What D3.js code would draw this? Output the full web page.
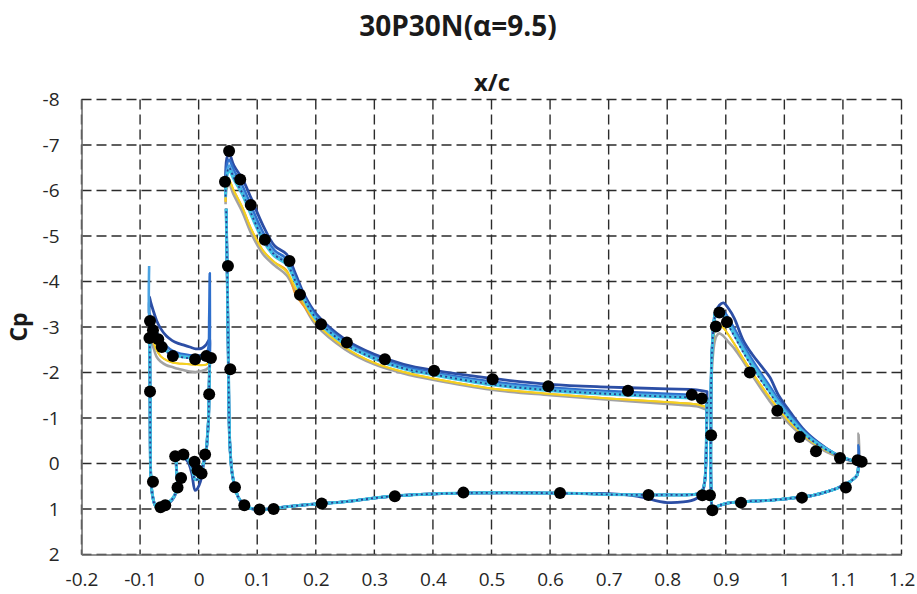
<html>
<script src='https://d3js.org/d3.v7.min.js'></script>
<style>
    body { margin: 0; background: #fff; }
    text { font-family: "Open Sans", Lato, sans-serif; }
</style>

<body>
    <div id="graph-container"></div>
    <script>
        // tick labels
        const xTicks = [-0.2, -0.1, 0, 0.1, 0.2, 0.3, 0.4, 0.5, 0.6, 0.7, 0.8, 0.9, 1, 1.1, 1.2];
        const yTicks = [-8, -7, -6, -5, -4, -3, -2, -1, 0, 1, 2];

        // slat upper surface (LE -> TE)
        const slatUpX = [-0.0845, -0.084, -0.082, -0.078, -0.072, -0.065, -0.055, -0.045, -0.035, -0.025, -0.015, -0.005, 0.005, 0.012, 0.016, 0.018, 0.019];
        const darkSlat   = [-3.3, -3.66, -3.55, -3.38, -3.15, -2.97, -2.8, -2.7, -2.64, -2.6, -2.56, -2.52, -2.53, -2.6, -2.68, -2.72, -2.75];
        const medSlat    = [-3.1, -3.3, -3.22, -3.08, -2.9, -2.74, -2.58, -2.48, -2.43, -2.4, -2.38, -2.37, -2.38, -2.42, -2.5, -3.2, -4.18];
        const lightSlat  = [-4.34, -3.2, -3.12, -2.98, -2.8, -2.64, -2.5, -2.42, -2.38, -2.36, -2.34, -2.33, -2.33, -2.36, -2.4, -2.42, -2.44];
        const cyanSlat   = [-3.05, -3.15, -3.05, -2.9, -2.75, -2.6, -2.47, -2.4, -2.36, -2.34, -2.32, -2.31, -2.31, -2.33, -2.36, -2.38, -2.4];
        const navySlat   = [-3.0, -3.1, -3.0, -2.86, -2.72, -2.57, -2.45, -2.38, -2.35, -2.33, -2.31, -2.3, -2.3, -2.32, -2.35, -2.37, -2.38];
        const yellowSlat = [-2.9, -2.95, -2.85, -2.7, -2.5, -2.36, -2.27, -2.22, -2.2, -2.19, -2.18, -2.17, -2.16, -2.17, -2.2, -2.22, -2.24];
        const orangeSlat = [-2.9, -2.95, -2.85, -2.7, -2.5, -2.36, -2.27, -2.22, -2.2, -2.19, -2.18, -2.17, -2.16, -2.17, -2.2, -2.22, -2.24];
        const graySlat   = [-2.75, -2.8, -2.72, -2.58, -2.35, -2.24, -2.16, -2.12, -2.08, -2.05, -2.02, -2.01, -2.03, -2.06, -2.1, -2.12, -2.15];

        // slat lower surface / cove (TE -> LE)
        const slatLowX = [0.019, 0.018, 0.017, 0.015, 0.013, 0.008, 0.003, -0.002, -0.006, -0.012, -0.019, -0.029, -0.037, -0.038, -0.036, -0.038, -0.045, -0.054, -0.062, -0.069, -0.075, -0.08, -0.082, -0.083, -0.0835];
        const slatLowCp = [-2.3, -1.76, -1.02, -0.6, -0.29, 0.0, 0.25, 0.35, 0.35, 0.07, -0.11, -0.18, -0.15, 0.07, 0.44, 0.6, 0.78, 0.88, 0.95, 0.99, 0.9, 0.59, 0.15, -1.59, -2.7];
        const darkSlatLowCp = [-2.5, -1.76, -1.02, -0.6, -0.29, 0.05, 0.4, 0.55, 0.59, 0.2, -0.05, -0.15, -0.12, 0.1, 0.46, 0.62, 0.8, 0.9, 0.96, 1.0, 0.9, 0.59, 0.15, -1.59, -2.9];

        // main element upper surface (LE -> TE)
        const mainUpX = [0.046, 0.048, 0.052, 0.06, 0.075, 0.09, 0.11, 0.13, 0.15, 0.165, 0.18, 0.2, 0.25, 0.3, 0.35, 0.4, 0.5, 0.6, 0.7, 0.8, 0.85, 0.868];
        const darkMain   = [-6.0, -6.7, -6.82, -6.55, -6.25, -5.82, -5.23, -4.78, -4.6, -4.18, -3.72, -3.3, -2.73, -2.4, -2.18, -2.05, -1.87, -1.74, -1.68, -1.64, -1.62, -1.58];
        const medMain    = [-5.95, -6.55, -6.68, -6.45, -6.1, -5.65, -5.08, -4.68, -4.5, -4.1, -3.67, -3.25, -2.68, -2.35, -2.13, -2.0, -1.8, -1.67, -1.59, -1.53, -1.5, -1.45];
        const lightMain  = [-5.9, -6.4, -6.55, -6.33, -5.98, -5.52, -4.96, -4.6, -4.43, -4.04, -3.63, -3.21, -2.65, -2.33, -2.1, -1.97, -1.76, -1.63, -1.55, -1.49, -1.46, -1.41];
        const cyanMain   = [-5.85, -6.3, -6.45, -6.25, -5.9, -5.45, -4.9, -4.55, -4.38, -4.0, -3.6, -3.18, -2.62, -2.3, -2.08, -1.95, -1.73, -1.6, -1.52, -1.46, -1.43, -1.38];
        const navyMain   = [-5.87, -6.35, -6.5, -6.28, -5.93, -5.48, -4.93, -4.58, -4.4, -4.02, -3.62, -3.2, -2.63, -2.31, -2.09, -1.96, -1.74, -1.61, -1.53, -1.47, -1.44, -1.39];
        const yellowMain = [-5.75, -6.12, -6.22, -6.0, -5.62, -5.15, -4.68, -4.42, -4.22, -3.87, -3.52, -3.1, -2.55, -2.21, -2.01, -1.87, -1.65, -1.53, -1.43, -1.35, -1.3, -1.25];
        const orangeMain = [-5.75, -6.12, -6.22, -6.0, -5.62, -5.15, -4.68, -4.42, -4.25, -3.72, -3.45, -3.1, -2.55, -2.21, -2.01, -1.87, -1.65, -1.53, -1.43, -1.35, -1.3, -1.25];
        const grayMain   = [-5.7, -6.05, -6.12, -5.9, -5.52, -5.05, -4.6, -4.35, -4.14, -3.8, -3.47, -3.05, -2.51, -2.18, -1.98, -1.84, -1.62, -1.5, -1.4, -1.31, -1.26, -1.2];

        // main element lower surface (TE -> LE)
        const mainLowX = [0.868, 0.867, 0.866, 0.864, 0.86, 0.85, 0.8, 0.75, 0.7, 0.65, 0.6, 0.55, 0.5, 0.45, 0.4, 0.35, 0.3, 0.25, 0.2, 0.15, 0.12, 0.1, 0.09, 0.078, 0.068, 0.062, 0.057, 0.053, 0.051, 0.049, 0.047];
        const mainLowCp = [-1.3, -0.6, 0.0, 0.4, 0.6, 0.67, 0.69, 0.69, 0.68, 0.66, 0.65, 0.645, 0.645, 0.65, 0.67, 0.7, 0.76, 0.84, 0.89, 0.95, 1.0, 1.01, 0.99, 0.92, 0.75, 0.52, 0.2, -0.5, -2.0, -4.0, -5.6];
        const darkMainLowCp = [-1.58, -0.6, 0.0, 0.4, 0.6, 0.77, 0.86, 0.72, 0.66, 0.66, 0.65, 0.645, 0.645, 0.65, 0.67, 0.7, 0.76, 0.84, 0.89, 0.95, 1.0, 1.01, 0.99, 0.92, 0.75, 0.52, 0.2, -0.5, -2.0, -4.0, -5.6];

        // flap upper surface (LE -> TE)
        const flapUpX = [0.876, 0.8745, 0.8745, 0.875, 0.877, 0.88, 0.884, 0.889, 0.896, 0.905, 0.915, 0.93, 0.945, 0.96, 0.975, 0.99, 1.01, 1.035, 1.06, 1.085, 1.105, 1.12, 1.126, 1.1265];
        const darkFlap   = [1.0, 0.3, -0.8, -1.8, -2.6, -3.1, -3.35, -3.48, -3.53, -3.4, -3.18, -2.7, -2.4, -2.15, -1.9, -1.5, -1.13, -0.72, -0.44, -0.22, -0.1, -0.05, -0.02, -0.02];
        const medFlap    = [1.0, 0.3, -0.8, -1.8, -2.6, -3.2, -3.4, -3.42, -3.36, -3.18, -2.96, -2.6, -2.28, -1.98, -1.7, -1.4, -1.06, -0.69, -0.43, -0.23, -0.11, -0.05, -0.02, -0.4];
        const lightFlap  = [1.0, 0.3, -0.8, -1.8, -2.6, -3.15, -3.38, -3.38, -3.3, -3.1, -2.88, -2.53, -2.21, -1.92, -1.63, -1.35, -1.02, -0.67, -0.42, -0.23, -0.11, -0.05, -0.02, -0.02];
        const cyanFlap   = [1.0, 0.3, -0.8, -1.8, -2.6, -3.1, -3.37, -3.35, -3.25, -3.05, -2.82, -2.47, -2.15, -1.86, -1.58, -1.3, -0.98, -0.64, -0.4, -0.22, -0.11, -0.05, -0.02, -0.02];
        const navyFlap   = [1.0, 0.3, -0.8, -1.8, -2.6, -3.1, -3.33, -3.32, -3.22, -3.02, -2.79, -2.44, -2.12, -1.83, -1.55, -1.28, -0.96, -0.63, -0.39, -0.21, -0.1, -0.05, -0.02, -0.02];
        const yellowFlap = [1.0, 0.3, -0.7, -1.6, -2.4, -2.85, -3.05, -3.05, -2.98, -2.82, -2.62, -2.3, -2.0, -1.72, -1.45, -1.2, -0.9, -0.6, -0.37, -0.2, -0.1, -0.04, -0.01, -0.01];
        const orangeFlap = [1.0, 0.3, -0.7, -1.6, -2.4, -2.85, -3.05, -3.05, -2.98, -2.82, -2.62, -2.3, -2.0, -1.72, -1.45, -1.2, -0.9, -0.6, -0.37, -0.2, -0.1, -0.04, -0.01, -0.01];
        const grayFlap   = [1.0, 0.3, -0.6, -1.5, -2.2, -2.6, -2.8, -2.86, -2.8, -2.66, -2.52, -2.24, -1.94, -1.65, -1.37, -1.13, -0.85, -0.56, -0.34, -0.18, -0.09, -0.03, 0.0, -0.66];

        // flap lower surface (TE -> LE)
        const flapLowX = [1.1265, 1.124, 1.118, 1.112, 1.1, 1.089, 1.07, 1.049, 1.02, 0.993, 0.96, 0.924, 0.9, 0.884, 0.878, 0.876];
        const flapLowCp = [0.05, 0.26, 0.34, 0.40, 0.48, 0.55, 0.63, 0.70, 0.75, 0.79, 0.82, 0.84, 0.88, 0.95, 1.0, 1.03];

        // experiment (black dots)
        const expX = [-0.083, -0.078, -0.084, -0.069, -0.063, -0.044, -0.006, 0.013, 0.021, -0.083, 0.018, -0.078, -0.030, -0.036, -0.065, -0.057, -0.040, -0.026, -0.007, -0.002, 0.005, 0.011,
            0.050, 0.054, 0.062, 0.078, 0.052, 0.045, 0.071, 0.089, 0.113, 0.155, 0.173, 0.209, 0.253, 0.318, 0.402, 0.502, 0.597, 0.733, 0.842, 0.859,
            0.104, 0.128, 0.210, 0.335, 0.452, 0.617, 0.768, 0.860, 0.873,
            0.889, 0.883, 0.902, 0.941, 0.988, 1.026, 1.054, 1.095, 1.125, 1.132, 0.875, 0.877, 0.926, 1.030, 1.105];
        const expCp = [-3.13, -2.93, -2.76, -2.73, -2.56, -2.36, -2.29, -2.36, -2.32, -1.58, -1.52, 0.40, 0.32, 0.53, 0.96, 0.92, -0.16, -0.20, -0.04, 0.15, 0.22, -0.20,
            -4.34, -2.07, 0.52, 0.92, -6.87, -6.19, -6.24, -5.68, -4.92, -4.45, -3.71, -3.06, -2.66, -2.29, -2.04, -1.85, -1.70, -1.60, -1.51, -1.43,
            1.01, 1.00, 0.88, 0.72, 0.64, 0.65, 0.69, 0.70, 0.70,
            -3.32, -3.01, -3.11, -2.00, -1.16, -0.58, -0.27, -0.12, -0.07, -0.04, -0.62, 1.03, 0.86, 0.75, 0.53];

        const width = 917, height = 594;
        const margin = { left: 81.5, right: 15.5, top: 99.5, bottom: 39.5 };

        const svg = d3.select("#graph-container").append("svg")
            .attr("width", width)
            .attr("height", height);

        const xScale = d3.scaleLinear().domain([-0.2, 1.2]).range([margin.left, width - margin.right]);
        const yScale = d3.scaleLinear().domain([-8, 2]).range([margin.top, height - margin.bottom]);

        // grid (dashed)
        svg.append("g").selectAll("line")
            .data(yTicks)
            .enter()
            .append("line")
            .attr("x1", xScale(-0.2)).attr("x2", xScale(1.2))
            .attr("y1", d => yScale(d)).attr("y2", d => yScale(d))
            .attr("stroke", "#2b2b2b")
            .attr("stroke-width", 1.4)
            .attr("stroke-dasharray", "10,5");
        svg.append("g").selectAll("line")
            .data(xTicks)
            .enter()
            .append("line")
            .attr("x1", d => xScale(d)).attr("x2", d => xScale(d))
            .attr("y1", yScale(-8)).attr("y2", yScale(2))
            .attr("stroke", "#2b2b2b")
            .attr("stroke-width", 1.4)
            .attr("stroke-dasharray", "10,5");

        // left and bottom axes (solid), plain hyphen for negatives
        const plain = d => String(d);
        svg.append("g")
            .attr("transform", `translate(${xScale(-0.2)},0)`)
            .call(d3.axisLeft(yScale).tickValues(yTicks).tickSize(0).tickPadding(22).tickFormat(plain))
            .call(g => g.select(".domain").attr("stroke", "#6e6e6e").attr("stroke-width", 1.6))
            .call(g => g.selectAll("text").attr("font-size", 19).attr("fill", "#262626").style("font-family", "'Open Sans', sans-serif"));
        svg.append("g")
            .attr("transform", `translate(0,${yScale(2)})`)
            .call(d3.axisBottom(xScale).tickValues(xTicks).tickSize(0).tickPadding(18).tickFormat(plain))
            .call(g => g.select(".domain").attr("stroke", "#6e6e6e").attr("stroke-width", 1.6))
            .call(g => g.selectAll("text").attr("font-size", 19).attr("fill", "#262626").style("font-family", "'Open Sans', sans-serif"));

        // CFD series
        const series = [
            { slat: graySlat, main: grayMain, flap: grayFlap, color: "#a3a3a3", width: 2.6 },
            { slat: orangeSlat, main: orangeMain, flap: orangeFlap, color: "#f39a25", width: 1.8 },
            { slat: yellowSlat, main: yellowMain, flap: yellowFlap, color: "#f4d21f", width: 2 },
            { slat: darkSlat, main: darkMain, flap: darkFlap, color: "#2c4ea5", width: 2.8, slatLow: darkSlatLowCp, mainLow: darkMainLowCp },
            { slat: medSlat, main: medMain, flap: medFlap, color: "#2e6fcc", width: 2.6 },
            { slat: lightSlat, main: lightMain, flap: lightFlap, color: "#4aa3e2", width: 2.6 },
            { slat: cyanSlat, main: cyanMain, flap: cyanFlap, color: "#40c5e4", width: 3 },
            { slat: navySlat, main: navyMain, flap: navyFlap, color: "#2d3a92", width: 1.8, dash: "2,3" }
        ];

        const line = d3.line()
            .x(d => xScale(d[0]))
            .y(d => yScale(d[1]))
            .curve(d3.curveCatmullRom.alpha(0.5));

        const zip = (xs, ys) => xs.map((v, i) => [v, ys[i]]);

        series.forEach(s => {
            const loops = [
                zip(slatUpX, s.slat).concat(zip(slatLowX, s.slatLow || slatLowCp)),
                zip(mainUpX, s.main).concat(zip(mainLowX, s.mainLow || mainLowCp)),
                zip(flapUpX, s.flap).concat(zip(flapLowX, flapLowCp))
            ];
            svg.append("g").selectAll("path")
                .data(loops)
                .enter()
                .append("path")
                .attr("d", line)
                .attr("fill", "none")
                .attr("stroke", s.color)
                .attr("stroke-width", s.width)
                .attr("stroke-linejoin", "round")
                .attr("stroke-dasharray", s.dash || null);
        });

        // experiment
        svg.append("g").selectAll("circle")
            .data(zip(expX, expCp))
            .enter()
            .append("circle")
            .attr("cx", d => xScale(d[0]))
            .attr("cy", d => yScale(d[1]))
            .attr("r", 6)
            .attr("fill", "#000");

        // titles
        svg.append("text")
            .attr("x", 458)
            .attr("y", 36)
            .attr("text-anchor", "middle")
            .style("font-weight", "bold")
            .style("font-size", "28px")
            .attr("fill", "#1a1a1a")
            .text("30P30N(α=9.5)");
        svg.append("text")
            .attr("x", 492)
            .attr("y", 91)
            .attr("text-anchor", "middle")
            .style("font-weight", "bold")
            .style("font-size", "24px")
            .attr("fill", "#1a1a1a")
            .text("x/c");
        svg.append("text")
            .attr("transform", "translate(27,327) rotate(-90)")
            .attr("text-anchor", "middle")
            .style("font-weight", "bold")
            .style("font-size", "23px")
            .attr("fill", "#1a1a1a")
            .text("Cp");
    </script>
</body>

</html>
